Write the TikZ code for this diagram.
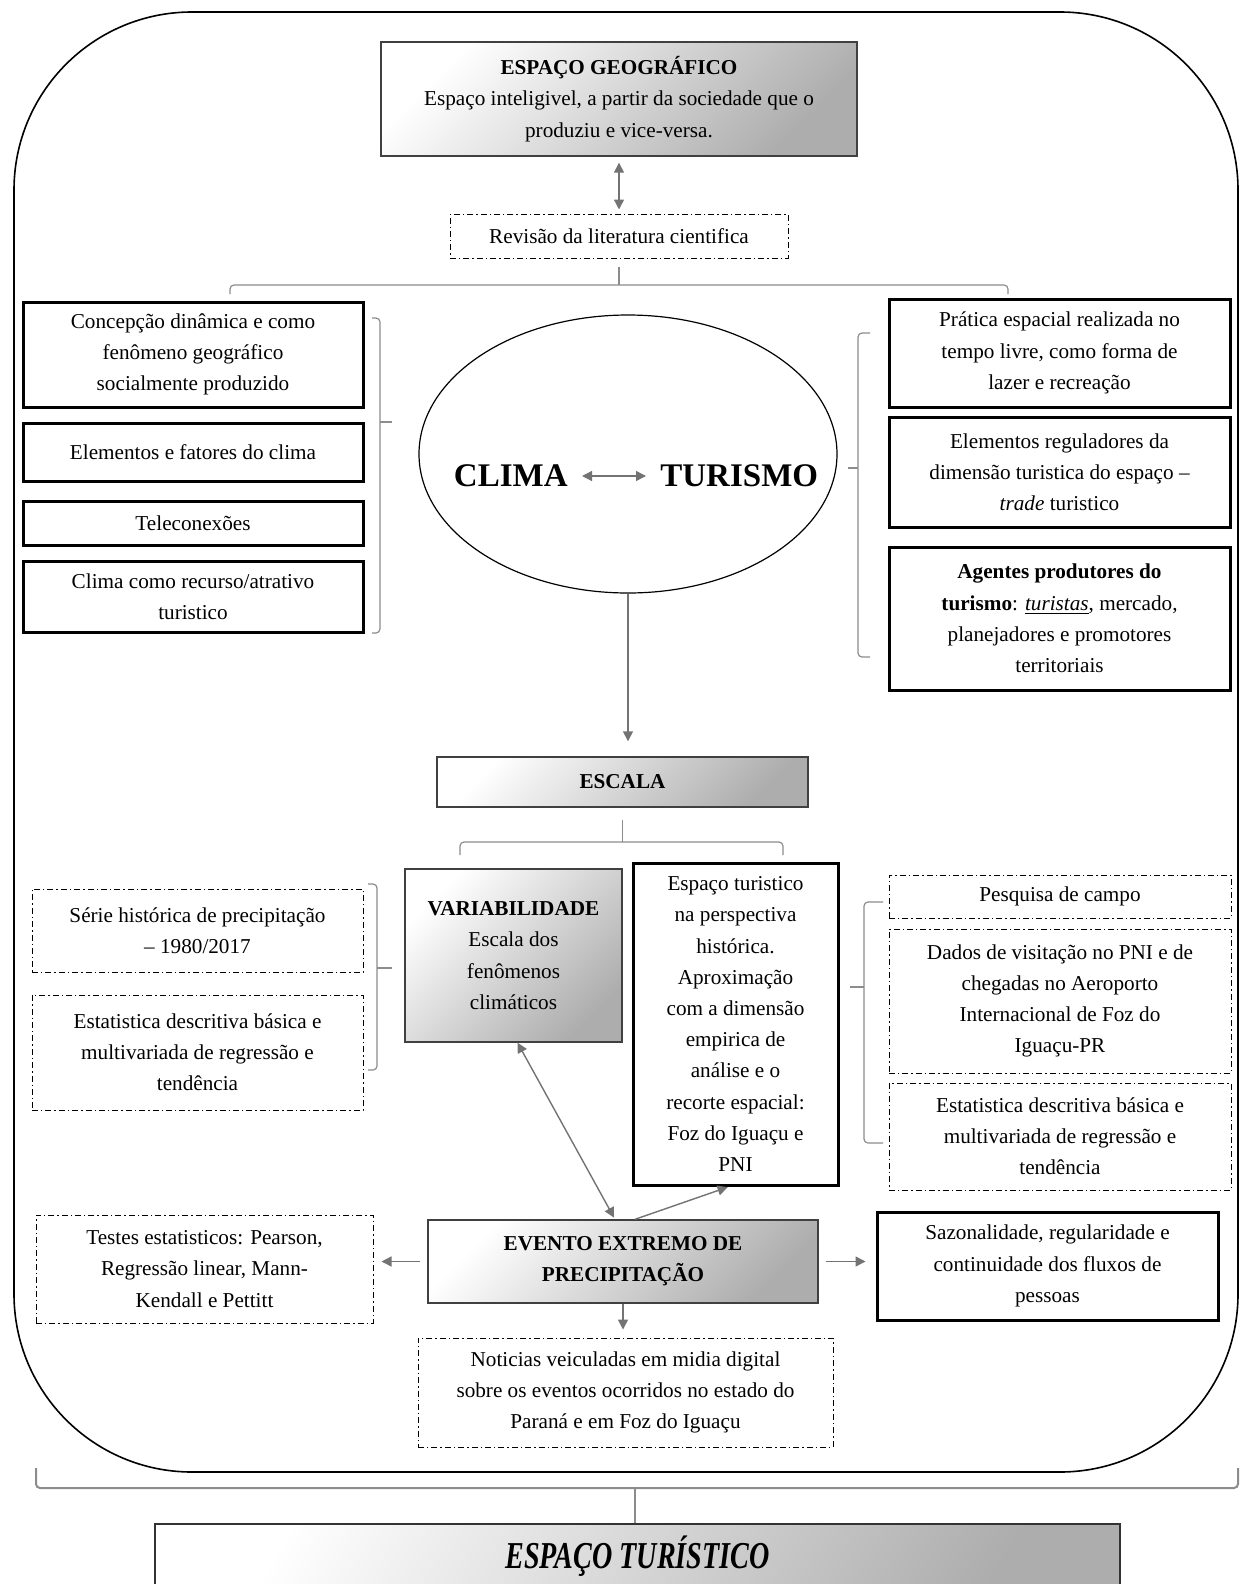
\documentclass[tikz,border=0pt]{standalone}
\usepackage{fontspec}
\setmainfont{Liberation Serif}
\usepackage{graphicx}
\usepackage{tikz}
\usetikzlibrary{arrows.meta,shapes.geometric,positioning}
\tikzset{
    %Define standard arrow tip
    >={Triangle[length=5pt,width=5pt]},
    %Define style for boxes
    solidrect/.style={
           rectangle,
           draw=black, line width=1.5pt,
           inner sep=2pt,
           align=center,
           font=\fontsize{10.6}{15.6}\selectfont},
    dashrect/.style={
           rectangle,
           draw=black, line width=0.5pt,
           dash pattern=on 3pt off 1.5pt on 0.7pt off 1.5pt,
           inner sep=2pt,
           align=center,
           font=\fontsize{10.6}{15.6}\selectfont},
    shadedrect/.style={
           rectangle,
           draw=black!75, line width=0.7pt,
           left color=white, right color=black!32, shading angle=45,
           inner sep=2pt,
           align=center,
           font=\fontsize{10.6}{15.6}\selectfont},
    bigword/.style={
           inner sep=7pt,
           font=\fontsize{16.5}{20}\selectfont\bfseries},
    % Define arrow style
    arr/.style={
           draw=black!55,
           line width=0.7pt},
    brk/.style={
           draw=black!45,
           line width=0.6pt,
           rounded corners=2pt}
}

\begin{document}
\begin{tikzpicture}[x=0.5pt,y=-0.5pt]
\useasboundingbox (0,0) rectangle (1245,1584);

 %frame
\draw[line width=0.8pt, rounded corners=89pt] (14,12) rectangle (1238,1472);

 %nodes
\node[shadedrect, minimum width=238pt, minimum height=57pt] (geo) at (619,99)
  {\textbf{ESPAÇO  GEOGRÁFICO}\\ Espaço inteligivel,  a partir da sociedade que o\\ produziu e vice-versa.};
\node[dashrect, minimum width=169pt, minimum height=22pt] (rev) at (619,236)
  {Revisão da literatura  cientifica};

\node[solidrect, minimum width=170pt, minimum height=52.5pt] (conc) at (193,354.5)
  {Concepção dinâmica  e como\\ fenômeno  geográfico\\ socialmente produzido};
\node[solidrect, minimum width=170pt, minimum height=29pt] (elem) at (193,452)
  {Elementos  e fatores do clima};
\node[solidrect, minimum width=170pt, minimum height=22pt] (tele) at (193,523)
  {Teleconexões};
\node[solidrect, minimum width=170pt, minimum height=35.5pt] (recu) at (193,596.5)
  {Clima  como recurso/atrativo\\ turistico};

\node[ellipse, draw=black, line width=0.6pt, minimum width=209pt, minimum height=139pt] (ell) at (628,454) {};
\node[bigword, anchor=east] (clima) at (582,476) {CLIMA};
\node[bigword, anchor=west] (turismo) at (646,476) {TURISMO};

\node[solidrect, minimum width=170.5pt, minimum height=54pt] (prat) at (1059.5,353)
  {Prática espacial realizada  no\\ tempo livre, como forma  de\\ lazer  e recreação};
\node[solidrect, minimum width=170.5pt, minimum height=55pt] (regu) at (1059.5,472)
  {Elementos  reguladores da\\ dimensão turistica  do espaço –\\ \textit{trade} turistico};
\node[solidrect, minimum width=170.5pt, minimum height=71.5pt] (agen) at (1059.5,618.5)
  {\textbf{Agentes produtores  do}\\ \textbf{turismo}: \underline{\textit{turistas}}, mercado,\\ planejadores e promotores\\ territoriais};

\node[shadedrect, minimum width=185.5pt, minimum height=25pt] (escala) at (622.5,782)
  {\textbf{ESCALA}};

\node[shadedrect, minimum width=108.5pt, minimum height=86.5pt] (var) at (513.5,955.5)
  {\textbf{VARIABILIDADE}\\ Escala dos\\ fenômenos\\ climáticos};
\node[solidrect, minimum width=102.5pt, minimum height=161pt] (espt) at (735.5,1024)
  {Espaço turistico\\ na perspectiva\\ histórica.\\ Aproximação\\ com a dimensão\\ empirica  de\\ análise e  o\\ recorte  espacial:\\ Foz do Iguaçu e\\ PNI};

\node[dashrect, minimum width=165.5pt, minimum height=41.5pt] (serie) at (197.5,930.5)
  {Série  histórica de precipitação\\ – 1980/2017};
\node[dashrect, minimum width=165.5pt, minimum height=57.5pt] (estl) at (197.5,1052.5)
  {Estatistica descritiva básica e\\ multivariada  de regressão e\\ tendência};

\node[dashrect, minimum width=171pt, minimum height=21.5pt] (pesq) at (1060,896.5)
  {Pesquisa de campo};
\node[dashrect, minimum width=171pt, minimum height=72pt] (dados) at (1060,1001)
  {Dados de visitação no PNI  e de\\ chegadas no Aeroporto\\ Internacional  de Foz do\\ Iguaçu-PR};
\node[dashrect, minimum width=171pt, minimum height=53.5pt] (estr) at (1060,1136.5)
  {Estatistica descritiva básica e\\ multivariada  de regressão e\\ tendência};

\node[shadedrect, minimum width=195pt, minimum height=41.5pt] (ev) at (623,1261.5)
  {\textbf{EVENTO  EXTREMO  DE}\\ \textbf{PRECIPITAÇÃO}};
\node[dashrect, minimum width=168.5pt, minimum height=54pt] (testes) at (204.5,1269)
  {Testes estatisticos: Pearson,\\ Regressão linear,  Mann-\\ Kendall  e Pettitt};
\node[solidrect, minimum width=170.5pt, minimum height=54pt] (sazo) at (1047.5,1266)
  {Sazonalidade, regularidade e\\ continuidade dos fluxos  de\\ pessoas};
\node[dashrect, minimum width=207.5pt, minimum height=54.5pt] (noti) at (625.5,1392.5)
  {Noticias  veiculadas em midia  digital\\ sobre os eventos ocorridos no estado do\\ Paraná  e em  Foz do Iguaçu};

\node[shadedrect, draw=black!80, minimum width=482.5pt, minimum height=32pt, shading angle=60] (et) at (637.5,1556)
  {\scalebox{0.74}[1]{\fontsize{19}{22}\selectfont\bfseries\itshape ESPAÇO TURÍSTICO}};

 %arrows
\draw[arr,<->, shorten <=3pt, shorten >=2pt] (geo.south) -- (rev.north);
\draw[arr,<->] (clima) -- (turismo);
\draw[arr,->, shorten >=7.5pt] (ell.south) -- (ell.south |- escala.north);
\draw[arr,<->, shorten <=1pt] ([xshift=-4pt]ev.north) -- ([xshift=2pt]var.south);
\draw[arr,->, shorten >=1pt] ([xshift=6pt]ev.north) -- ([xshift=-3pt]espt.south);
\draw[arr,->, shorten <=3.5pt, shorten >=4pt] (ev.west) -- (ev.west -| testes.east);
\draw[arr,->, shorten <=3.5pt, shorten >=5pt] (ev.east) -- (ev.east -| sazo.west);
\draw[arr,->, shorten >=4pt] (ev.south) -- (ev.south |- noti.north);

 %braces
\draw[brk] ([yshift=-4pt]rev.south) -- (619,285);
\draw[brk] (230,294) -- (230,285) -- (1008,285) -- (1008,294);
\draw[brk] (372,318) -- (380,318) -- (380,633) -- (372,633);
\draw[brk] (380,422) -- (392,422);
\draw[brk] (870,333) -- (858,333) -- (858,657) -- (870,657);
\draw[brk] (858,468) -- (848,468);
\draw[brk] ([yshift=-6pt]escala.south) -- (622.5,842);
\draw[brk] (460,855) -- (460,842) -- (783,842) -- (783,855);
\draw[brk] (368,884) -- (377,884) -- (377,1070) -- (368,1070);
\draw[brk] (377,968) -- (392,968);
\draw[brk] (883,902) -- (864,902) -- (864,1143) -- (883,1143);
\draw[brk] (864,987) -- (850,987);
\draw[brk, line width=1pt] (36,1468) -- (36,1488) -- (1238,1488) -- (1238,1468);
\draw[brk, line width=1pt] (635,1488) -- (et.north -| 635,0);

\end{tikzpicture}
\end{document}
